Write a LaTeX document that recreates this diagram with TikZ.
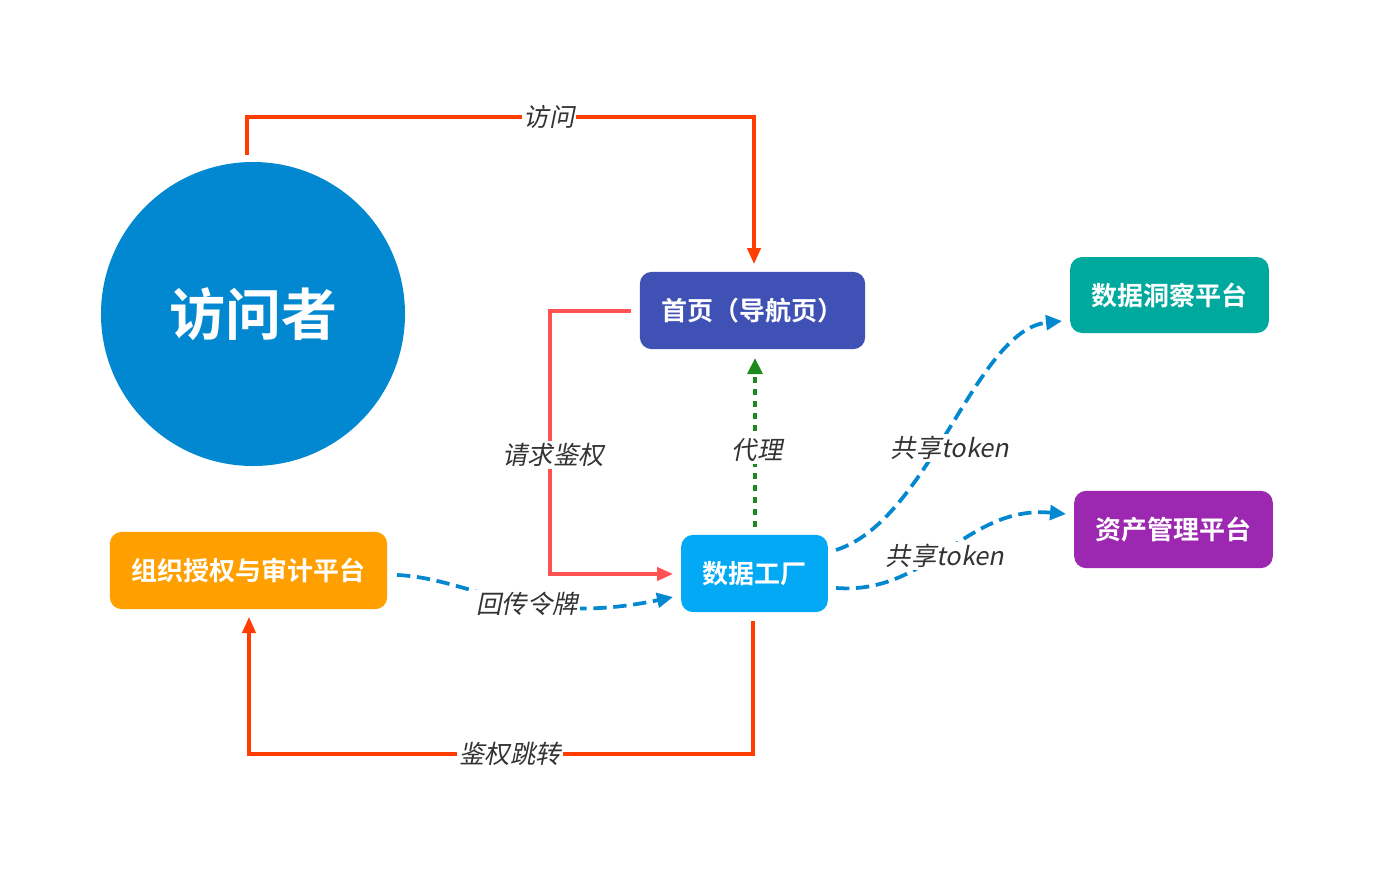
\documentclass[tikz,border=0pt]{standalone}
\usepackage{fontspec}
\usetikzlibrary{arrows.meta}
\newfontfamily\cjk{Noto Sans CJK SC}[BoldFont={Noto Sans CJK SC Bold}]
\newfontfamily\cjkit{Noto Sans CJK SC}[FakeSlant=0.2]
\definecolor{cvisit}{HTML}{0288D1}
\definecolor{chome}{HTML}{3F51B5}
\definecolor{cfactory}{HTML}{03A9F4}
\definecolor{cinsight}{HTML}{00A99D}
\definecolor{casset}{HTML}{9C27B0}
\definecolor{corg}{HTML}{FFA000}
\definecolor{cred}{HTML}{FF3D00}
\definecolor{cpink}{HTML}{FF5252}
\definecolor{cgreen}{HTML}{1B8C1B}
\definecolor{cblue}{HTML}{0288D1}
\definecolor{clabel}{HTML}{333333}
\tikzset{
  box/.style={rectangle, rounded corners=9pt, inner sep=0pt, text=white,
    font=\cjk\bfseries\fontsize{19.5}{22}\selectfont},
  lbl/.style={fill=white, inner sep=1.5pt, text=clabel,
    font=\cjkit\fontsize{19}{21}\selectfont},
  redline/.style={draw=cred, line width=2.5pt, -{Triangle[length=12pt,width=10pt]}},
  pinkline/.style={draw=cpink, line width=2.5pt, -{Triangle[length=12pt,width=10pt]}},
  greenline/.style={draw=cgreen, line width=3pt, dash pattern=on 4.5pt off 4.5pt, -{Triangle[length=12pt,width=11pt]}},
  blueline/.style={draw=cblue, line width=2.8pt, dash pattern=on 10pt off 5pt, -{Triangle[length=12pt,width=11pt]}},
}
\begin{document}
\begin{tikzpicture}[x=0.75pt,y=-0.75pt]
\useasboundingbox (0,0) rectangle (1374,872);
% nodes
\node[circle, fill=cvisit, minimum size=228pt, inner sep=0pt, text=white,
  font=\cjk\bfseries\fontsize{42}{46}\selectfont] (visitor) at (253,314) {访问者};
\node[box, fill=chome, minimum width=169pt, minimum height=58pt] (home) at (752.5,310.5) {首页（导航页）};
\node[box, fill=cfactory, minimum width=110pt, minimum height=58pt] (factory) at (754.5,573.5) {数据工厂};
\node[box, fill=cinsight, minimum width=149pt, minimum height=57pt] (insight) at (1169.5,295) {数据洞察平台};
\node[box, fill=casset, minimum width=149pt, minimum height=58pt] (asset) at (1173.5,529.5) {资产管理平台};
\node[box, fill=corg, minimum width=208pt, minimum height=58pt] (org) at (248.5,570.5) {组织授权与审计平台};
% coordinates
\coordinate (vTop) at (247,155);
\coordinate (v1) at (247,117);
\coordinate (v2) at (754,117);
\coordinate (homeTopIn) at (754,264);
\coordinate (hL) at (631,311);
\coordinate (p1) at (550,311);
\coordinate (p2) at (550,574);
\coordinate (fL) at (673,574);
\coordinate (fTop) at (755,527);
\coordinate (hBot) at (755,358);
\coordinate (fBot) at (753,621);
\coordinate (j1) at (753,754);
\coordinate (j2) at (249,754);
\coordinate (oBot) at (249,617);
\coordinate (oR) at (397,575);
\coordinate (fL2) at (673,597);
\coordinate (fR1) at (836,550);
\coordinate (iL) at (1062,321);
\coordinate (fR2) at (836,588);
\coordinate (aL) at (1066,514);
% connectors
\draw[redline] (vTop) -- (v1) -- (v2) -- (homeTopIn);
\node[lbl] (lvisit) at (549,117) {访问};
\draw[pinkline] (hL) -- (p1) -- (p2) -- (fL);
\node[lbl] (lreq) at (553,455) {请求鉴权};
\draw[greenline] (fTop) -- (hBot);
\node[lbl] (lproxy) at (757,450) {代理};
\draw[redline] (fBot) -- (j1) -- (j2) -- (oBot);
\node[lbl] (ljump) at (510,754) {鉴权跳转};
\draw[blueline] (oR) .. controls (470,578) and (525,628) .. (fL2);
\node[lbl] (ltoken) at (527,604) {回传令牌};
\draw[blueline] (fR1) .. controls (930,520) and (975,330) .. (iL);
\node[lbl] (ls1) at (950,448) {共享token};
\draw[blueline] (fR2) .. controls (930,595) and (965,505) .. (aL);
\node[lbl] (ls2) at (945,556) {共享token};
\end{tikzpicture}
\end{document}
